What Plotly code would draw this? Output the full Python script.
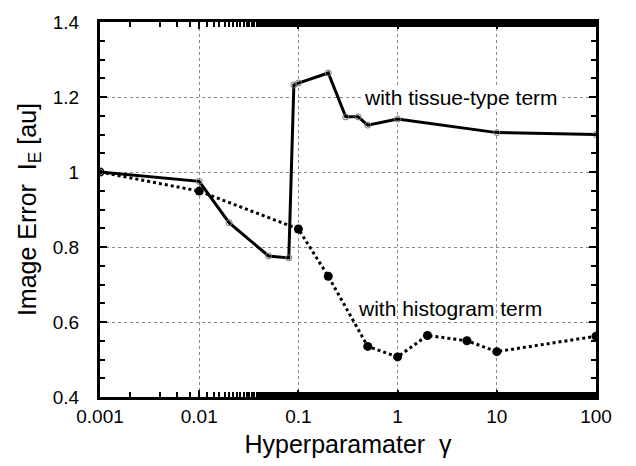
import plotly.graph_objects as go

# data
gamma_tissue = [0.001, 0.01, 0.02, 0.05, 0.08, 0.09, 0.1, 0.2, 0.3, 0.4, 0.5, 1, 10, 100]
err_tissue = [1.0, 0.975, 0.865, 0.776, 0.771, 1.232, 1.237, 1.264, 1.147, 1.147, 1.125, 1.141, 1.105, 1.10]

gamma_hist = [0.001, 0.01, 0.1, 0.2, 0.5, 1, 2, 5, 10, 100]
err_hist = [1.0, 0.949, 0.848, 0.722, 0.535, 0.507, 0.564, 0.550, 0.521, 0.562]

x_ticks = [0.001, 0.01, 0.1, 1, 10, 100]
x_tick_labels = ["0.001", "0.01", "0.1", "1", "10", "100"]
y_ticks = [0.4, 0.6, 0.8, 1.0, 1.2, 1.4]
y_tick_labels = ["0.4", "0.6", "0.8", "1", "1.2", "1.4"]

FONT = "Liberation Sans, Arial, Helvetica, sans-serif"

fig = go.Figure()
fig.add_trace(go.Scatter(
    x=gamma_hist, y=err_hist, mode="lines+markers",
    line=dict(color="black", width=3, dash="dot"),
    marker=dict(symbol="circle", size=9, color="black"),
    showlegend=False,
))
fig.add_trace(go.Scatter(
    x=gamma_tissue, y=err_tissue, mode="lines+markers",
    line=dict(color="black", width=3),
    marker=dict(symbol="circle-open", size=6, color="#777777", line=dict(width=1)),
    showlegend=False,
))

# annotation x positions are log10 values on the log axis
fig.add_annotation(x=0.64, y=1.2, xref="x", yref="y", text="with tissue-type term",
                   showarrow=False, font=dict(family=FONT, size=21, color="black"),
                   bgcolor="white", borderpad=0)
fig.add_annotation(x=0.53, y=0.635, xref="x", yref="y", text="with histogram term",
                   showarrow=False, font=dict(family=FONT, size=21, color="black"),
                   borderpad=0)

fig.update_layout(
    width=636, height=466,
    margin=dict(l=100, r=40, t=19, b=68),
    paper_bgcolor="white", plot_bgcolor="white",
    font=dict(family=FONT, color="black"),
    xaxis=dict(
        type="log", range=[-3, 2],
        tickvals=x_ticks, ticktext=x_tick_labels,
        tickfont=dict(size=19),
        ticks="inside", ticklen=7, tickwidth=1.5, tickcolor="black",
        showline=True, linewidth=3, linecolor="black", mirror="allticks",
        showgrid=True, gridcolor="#888888", griddash="dot", gridwidth=1,
        minor=dict(ticks="inside", ticklen=5, tickcolor="black", showgrid=False),
        title=dict(text="Hyperparamater  γ", font=dict(size=25), standoff=10),
        zeroline=False,
    ),
    yaxis=dict(
        range=[0.4, 1.4],
        tickvals=y_ticks, ticktext=y_tick_labels,
        tickfont=dict(size=19),
        ticklabelstandoff=14,
        ticks="inside", ticklen=7, tickwidth=1.5, tickcolor="black",
        showline=True, linewidth=3, linecolor="black", mirror="allticks",
        showgrid=True, gridcolor="#888888", griddash="dot", gridwidth=1,
        minor=dict(ticks="inside", ticklen=5, tickcolor="black", dtick=0.05, showgrid=False),
        title=dict(text="Image Error  I<sub>E</sub> [au]", font=dict(size=25), standoff=10),
        zeroline=False,
    ),
)

fig.write_html("out.html")
